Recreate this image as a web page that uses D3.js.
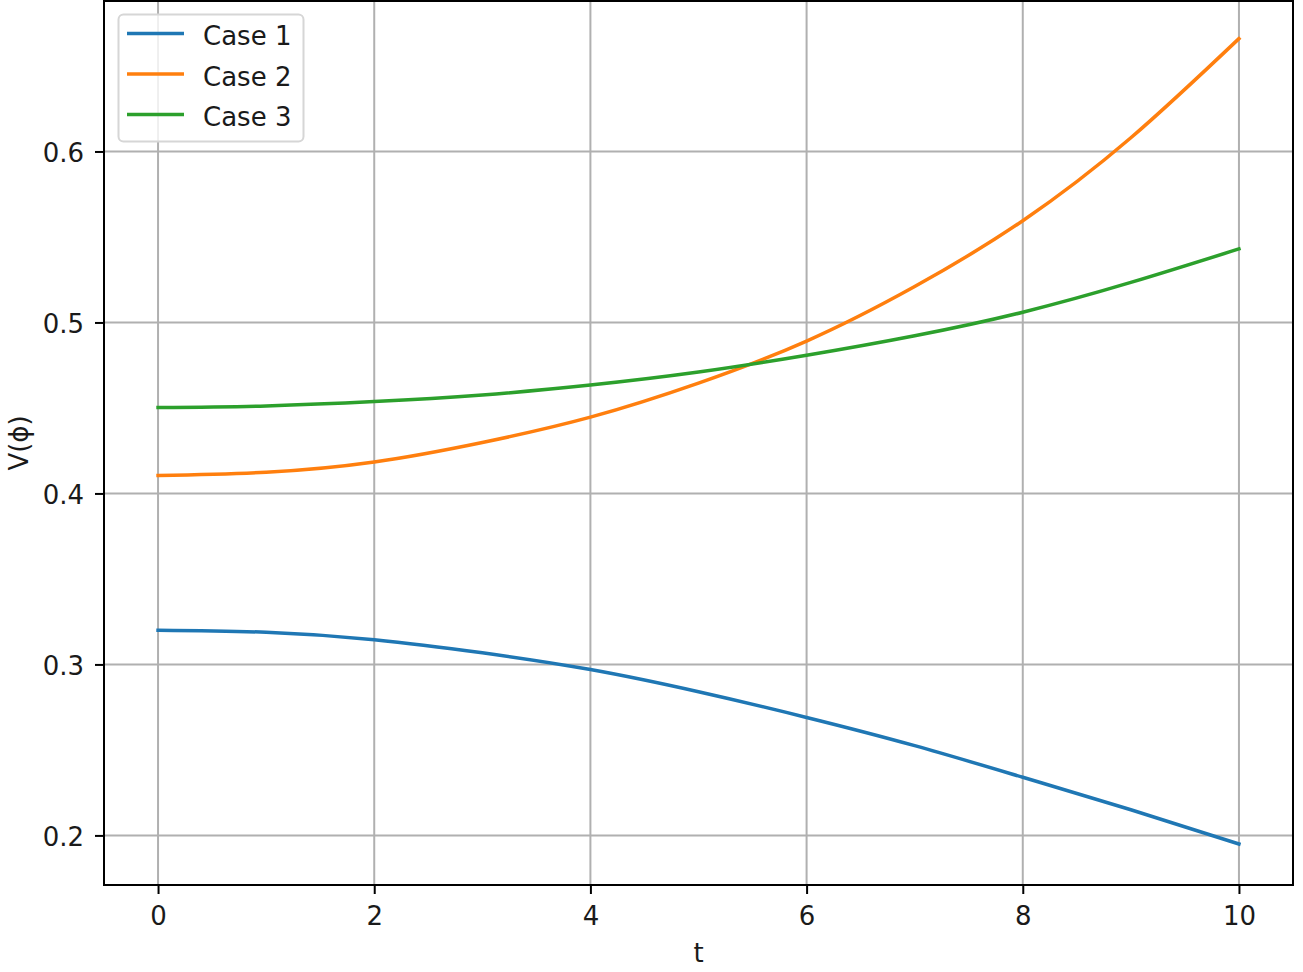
<!DOCTYPE html>
<html>
<head>
<meta charset="utf-8">
<script src="https://cdn.jsdelivr.net/npm/d3@7"></script>
<style>
  html, body { margin: 0; padding: 0; background: #fff; }
  svg { display: block; }
  text { font-family: "DejaVu Sans", sans-serif; fill: #1a1a1a; }
</style>
</head>
<body>
<svg id="chart" width="1303" height="972"></svg>
<script>
const tValues = [0, 1, 2, 3, 4, 5, 6, 7, 8, 9, 10];
const case1 = [0.3200, 0.3188, 0.3145, 0.3068, 0.2970, 0.2840, 0.2690, 0.2525, 0.2340, 0.2150, 0.1950];
const case2 = [0.4105, 0.4124, 0.4184, 0.4298, 0.4446, 0.4645, 0.4891, 0.5210, 0.5595, 0.6080, 0.6660];
const case3 = [0.4502, 0.4512, 0.4537, 0.4576, 0.4634, 0.4710, 0.4808, 0.4922, 0.5060, 0.5234, 0.5430];
const seriesNames = ["Case 1", "Case 2", "Case 3"];
const seriesColors = ["#1f77b4", "#ff7f0e", "#2ca02c"];
const xTicks = [0, 2, 4, 6, 8, 10];
const yTicks = [0.2, 0.3, 0.4, 0.5, 0.6];
const xLabel = "t";
const yLabel = "V(\u03D5)";

const svg = d3.select("#chart");
const L = 104, R = 1293, T = 1, B = 885;
const FS = 26;

const x = d3.scaleLinear().domain([-0.5, 10.5]).range([L, R]);
const y = d3.scaleLinear().domain([0.1710, 0.6880]).range([B, T]);

// grid
const grid = svg.append("g");
grid.selectAll("line.gx").data(xTicks).join("line")
  .attr("x1", d => x(d)).attr("x2", d => x(d)).attr("y1", T).attr("y2", B)
  .attr("stroke", "#b0b0b0").attr("stroke-width", 2);
grid.selectAll("line.gy").data(yTicks).join("line")
  .attr("y1", d => y(d)).attr("y2", d => y(d)).attr("x1", L).attr("x2", R)
  .attr("stroke", "#b0b0b0").attr("stroke-width", 2);

// lines
const data = [case1, case2, case3];
const line = d3.line().x((d, i) => x(tValues[i])).y(d => y(d)).curve(d3.curveNatural);
svg.append("g").selectAll("path").data(data).join("path")
  .attr("d", d => line(d))
  .attr("fill", "none")
  .attr("stroke", (d, i) => seriesColors[i])
  .attr("stroke-width", 3.5)
  .attr("stroke-linecap", "square");

// axes
const xAxis = d3.axisBottom(x).tickValues(xTicks).tickSize(9).tickPadding(10).tickFormat(d3.format("d"));
const yAxis = d3.axisLeft(y).tickValues(yTicks).tickSize(9).tickPadding(10).tickFormat(d3.format(".1f"));
const gx = svg.append("g").attr("transform", `translate(0,${B})`).call(xAxis);
const gy = svg.append("g").attr("transform", `translate(${L},0)`).call(yAxis);
[gx, gy].forEach(g => {
  g.select(".domain").remove();
  g.selectAll(".tick line").attr("stroke", "#000").attr("stroke-width", 2);
  g.selectAll(".tick text").attr("font-size", FS).attr("font-family", "DejaVu Sans").attr("fill", "#1a1a1a");
});
gx.selectAll(".tick text").attr("dy", null).attr("y", 40).attr("dominant-baseline", "alphabetic");
gy.selectAll(".tick text").attr("dy", null).attr("y", 10).attr("x", -20).attr("dominant-baseline", "alphabetic");

// spines
svg.append("rect").attr("x", L).attr("y", T).attr("width", R - L).attr("height", B - T)
  .attr("fill", "none").attr("stroke", "#000").attr("stroke-width", 2);

// axis labels
svg.append("text").attr("x", (L + R) / 2).attr("y", 962).attr("text-anchor", "middle")
  .attr("font-size", FS).text(xLabel);
svg.append("text").attr("transform", `translate(28,${(T + B) / 2}) rotate(-90)`)
  .attr("text-anchor", "middle").attr("font-size", FS).text(yLabel);

// legend
const lg = svg.append("g");
lg.append("rect").attr("x", 118.5).attr("y", 14.5).attr("width", 185).attr("height", 127)
  .attr("rx", 5).attr("fill", "rgba(255,255,255,0.8)").attr("stroke", "#d6d6d6").attr("stroke-width", 2);
seriesNames.forEach((name, i) => {
  const yy = 33.5 + i * 40.5;
  lg.append("line").attr("x1", 127).attr("x2", 184).attr("y1", yy).attr("y2", yy)
    .attr("stroke", seriesColors[i]).attr("stroke-width", 3.5);
  lg.append("text").attr("x", 203).attr("y", yy + 11.5).attr("font-size", FS).text(name);
});
</script>
</body>
</html>
